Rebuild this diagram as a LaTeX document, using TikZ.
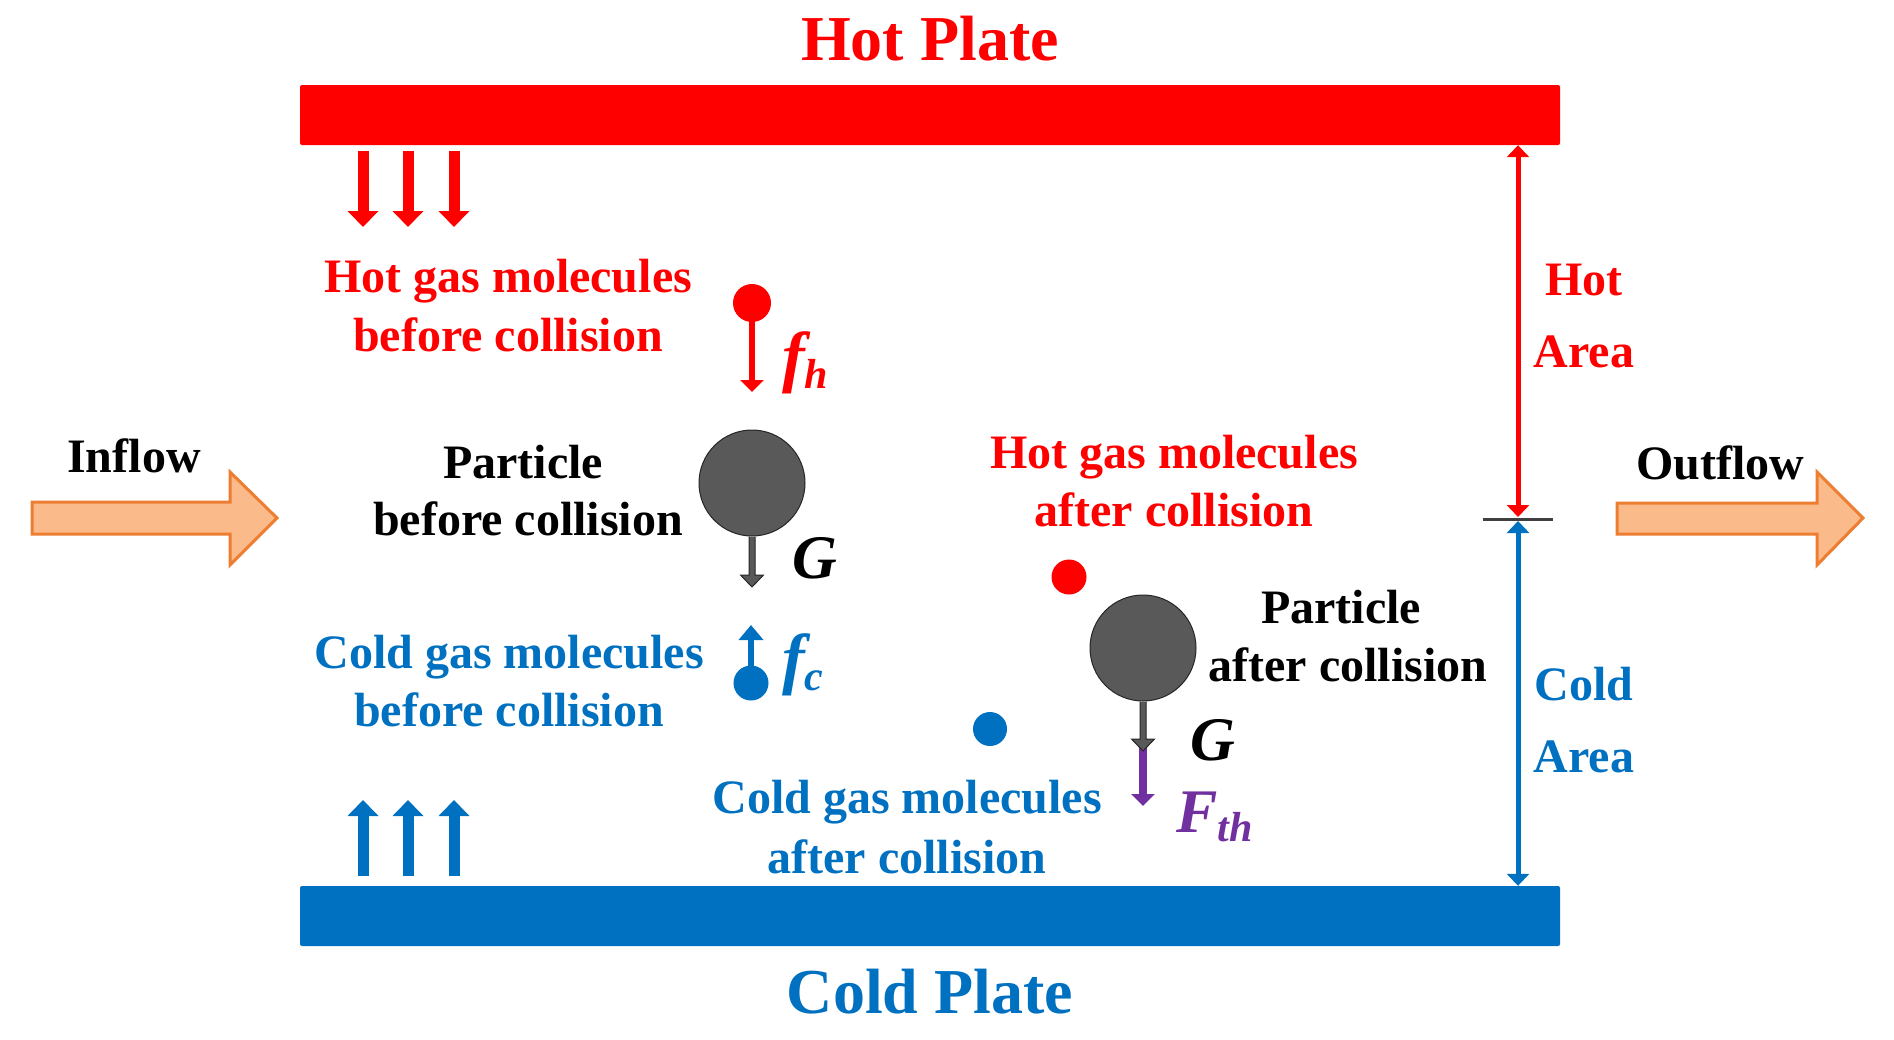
\documentclass[tikz,border=0pt]{standalone}
\usepackage{fontspec}
\setmainfont{Liberation Serif}
\usetikzlibrary{arrows.meta,calc}
\definecolor{hot}{HTML}{FF0000}
\definecolor{cold}{HTML}{0070C0}
\definecolor{purp}{HTML}{7030A0}
\definecolor{pgray}{HTML}{595959}
\definecolor{pedge}{HTML}{262626}
\definecolor{orfill}{HTML}{FBBA8A}
\definecolor{oredge}{HTML}{ED7D31}
\definecolor{sepcol}{HTML}{404040}
\newcommand{\subtxt}[1]{\raisebox{-9pt}{\fontsize{42}{42}\selectfont #1}}
\begin{document}
\begin{tikzpicture}[x=1pt,y=-1pt,
  lbl/.style={font=\fontsize{48}{48}\selectfont\bfseries, inner sep=0pt, anchor=base},
  titletext/.style={font=\fontsize{64}{64}\selectfont\bfseries, inner sep=0pt, anchor=base},
  sym/.style={font=\fontsize{62}{62}\selectfont\bfseries\itshape, inner sep=0pt, anchor=base west},
  fsym/.style={font=\fontsize{68}{68}\selectfont\bfseries\itshape, inner sep=0pt, anchor=base west},
  plate/.style={rectangle, inner sep=0pt, minimum width=1260pt, minimum height=60pt, rounded corners=2pt},
  dot/.style={circle, inner sep=0pt, minimum size=#1},
  particle/.style={circle, inner sep=0pt, minimum size=106pt, fill=pgray, draw=pedge, line width=1pt},
  blockarrow/.style={line width=11pt, -{Triangle[width=30pt,length=16pt]}},
  stick/.style={line width=6pt, -{Triangle[width=23pt,length=12pt]}},
  span/.style={line width=5pt, {Triangle[width=22pt,length=12pt]}-{Triangle[width=22pt,length=12pt]}},
  flow/.style={fill=orfill, draw=oredge, line width=3pt, line join=miter}
]
\useasboundingbox (0,0) rectangle (1894,1039);

% plates
\node[plate, fill=hot] (hotplate) at (930,115) {};
\node[plate, fill=cold] (coldplate) at (930,916) {};
\node[titletext, hot] (hottitle) at (930,60) {Hot Plate};
\node[titletext, cold] (coldtitle) at (930,1013) {Cold Plate};

% three arrows from hot plate
\draw[blockarrow, hot] (363,151) -- (363,227);
\draw[blockarrow, hot] (408,151) -- (408,227);
\draw[blockarrow, hot] (454,151) -- (454,227);
% three arrows to cold plate
\draw[blockarrow, cold] (363,876) -- (363,800);
\draw[blockarrow, cold] (408,876) -- (408,800);
\draw[blockarrow, cold] (454,876) -- (454,800);

% hot gas before collision
\node[lbl, hot] (hgb1) at (508,292) {Hot gas molecules};
\node[lbl, hot] (hgb2) at (508,351) {before collision};
\node[dot=38pt, fill=hot] (hm1) at (752,303) {};
\coordinate (hm1tip) at (752,392);
\draw[stick, hot] (hm1.center) -- (hm1tip);
\node[fsym, hot] (fh) at (782,379) {f\subtxt{h}};

% particle before collision
\node[lbl] (pb1) at (523,478) {Particle};
\node[lbl] (pb2) at (528,535) {before collision};
\node[particle] (p1) at (752,483) {};
\coordinate (g1tip) at (752,587);
\filldraw[fill=pgray, draw=pedge, line width=1pt]
  ($(p1.south)+(-3,0)$) -- ($(g1tip)+(-3,-12)$) -- ($(g1tip)+(-11.5,-12)$) -- (g1tip)
  -- ($(g1tip)+(11.5,-12)$) -- ($(g1tip)+(3,-12)$) -- ($(p1.south)+(3,0)$);
\node[sym] (g1) at (792,578) {G};

% cold gas before collision
\node[lbl, cold] (cgb1) at (509,668) {Cold gas molecules};
\node[lbl, cold] (cgb2) at (509,726) {before collision};
\node[dot=35pt, fill=cold] (cm1) at (751,683) {};
\coordinate (cm1tip) at (751,625);
\draw[stick, cold, -{Triangle[width=24pt,length=15pt]}] (cm1.center) -- (cm1tip);
\node[fsym, cold] (fc) at (782,681) {f\subtxt{c}};

% hot gas after collision
\node[lbl, hot] (hga1) at (1174,468) {Hot gas molecules};
\node[lbl, hot] (hga2) at (1174,526) {after collision};
\node[dot=35pt, fill=hot] (hm2) at (1069,577) {};

% cold gas after collision
\node[dot=34pt, fill=cold] (cm2) at (990,729) {};
\node[lbl, cold] (cga1) at (907,813) {Cold gas molecules};
\node[lbl, cold] (cga2) at (907,873) {after collision};

% particle after collision
\node[particle] (p2) at (1143,648) {};
\node[lbl] (pa1) at (1341,623) {Particle};
\node[lbl] (pa2) at (1348,681) {after collision};
\coordinate (g2tip) at (1143,751);
\coordinate (fthtip) at (1143,806);
\draw[line width=8pt, purp, -{Triangle[width=23pt,length=12pt]}] ($(g2tip)+(0,-8)$) -- (fthtip);
\filldraw[fill=pgray, draw=pedge, line width=1pt]
  ($(p2.south)+(-3,0)$) -- ($(g2tip)+(-3,-12)$) -- ($(g2tip)+(-11.5,-12)$) -- (g2tip)
  -- ($(g2tip)+(11.5,-12)$) -- ($(g2tip)+(3,-12)$) -- ($(p2.south)+(3,0)$);
\node[sym] (g2) at (1190,760) {G};
\node[sym, purp] (fth) at (1176,832) {F\subtxt{th}};

% hot / cold area
\coordinate (mid) at (1518,519);
\draw[sepcol, line width=3pt] ($(mid)+(-35,0)$) -- ($(mid)+(35,0)$);
\draw[span, hot] (mid |- hotplate.south) -- ($(mid)+(0,-2)$);
\draw[span, cold] ($(mid)+(0,2)$) -- (mid |- coldplate.north);
\node[lbl, hot] (ha1) at (1584,295) {Hot};
\node[lbl, hot] (ha2) at (1584,367) {Area};
\node[lbl, cold] (ca1) at (1584,700) {Cold};
\node[lbl, cold] (ca2) at (1584,772) {Area};

% inflow / outflow
\filldraw[flow] (32,502) -- (230,502) -- (230,472) -- (277,518) -- (230,565) -- (230,534) -- (32,534) -- cycle;
\node[lbl] (inflow) at (134,472) {Inflow};
\filldraw[flow] (1617,503) -- (1817,503) -- (1817,472) -- (1863,518) -- (1817,565) -- (1817,534) -- (1617,534) -- cycle;
\node[lbl] (outflow) at (1720,479) {Outflow};
\end{tikzpicture}
\end{document}
